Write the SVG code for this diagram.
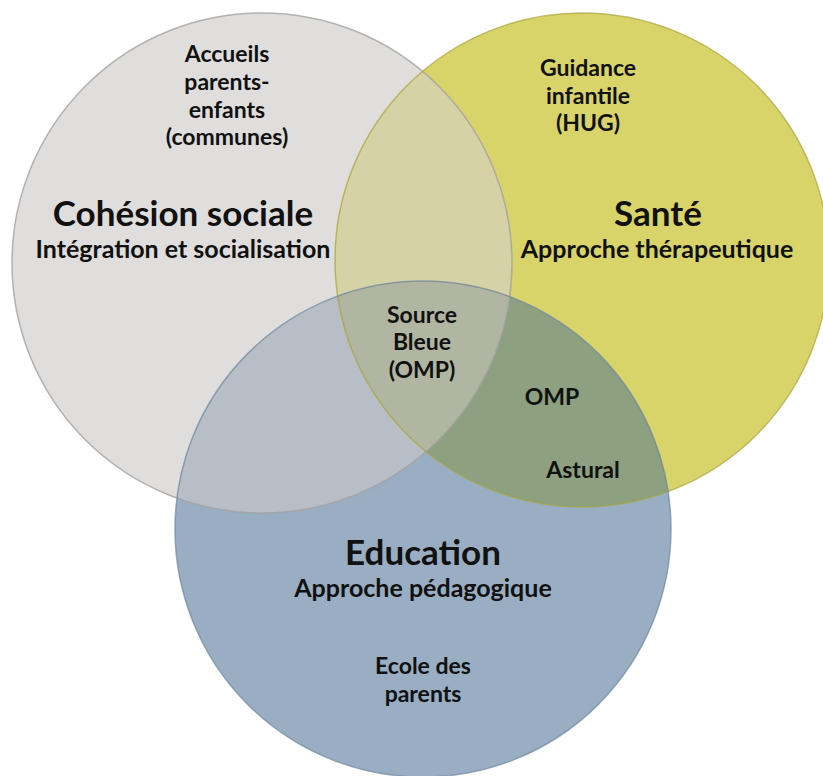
<svg xmlns="http://www.w3.org/2000/svg" width="823" height="776" viewBox="0 0 823 776">
  <style>
    .lbl { font-family: Lato, "Open Sans", "Liberation Sans", sans-serif; fill: #111111; text-anchor: middle; font-weight: 700; }
    .title { font-size: 35px; }
    .sub { font-size: 25px; }
    .item { font-size: 23px; }
    .ring { fill: none; stroke-width: 1.5; }
  </style>
  <defs>
    <circle id="c-social" cx="262" cy="263" r="250"/>
    <circle id="c-sante" cx="582" cy="260" r="247"/>
    <circle id="c-edu" cx="423" cy="529" r="248"/>
    <clipPath id="clip-social"><use href="#c-social"/></clipPath>
    <clipPath id="clip-sante"><use href="#c-sante"/></clipPath>
  </defs>

  <rect width="823" height="776" fill="#ffffff"/>

  <!-- base discs -->
  <g id="social">
    <use href="#c-social" fill="#e0dedc"/>
  </g>
  <g id="sante">
    <use href="#c-sante" fill="#d8d46a"/>
  </g>
  <g id="education">
    <use href="#c-edu" fill="#99aec2"/>
  </g>

  <!-- pairwise and triple overlaps -->
  <g id="overlaps">
    <g clip-path="url(#clip-social)">
      <use href="#c-sante" fill="#d5d2a5"/>
      <use href="#c-edu" fill="#b8bec6"/>
    </g>
    <g clip-path="url(#clip-sante)">
      <use href="#c-edu" fill="#8da07f"/>
    </g>
    <g clip-path="url(#clip-social)">
      <g clip-path="url(#clip-sante)">
        <use href="#c-edu" fill="#b1b6a2"/>
      </g>
    </g>
  </g>

  <!-- outlines -->
  <g id="outlines">
    <use href="#c-social" class="ring" stroke="#a3a3a3" stroke-opacity="0.8"/>
    <use href="#c-sante" class="ring" stroke="#aaa53c" stroke-opacity="0.7"/>
    <use href="#c-edu" class="ring" stroke="#6f879e" stroke-opacity="0.7"/>
  </g>

  <!-- labels -->
  <g id="social-labels">
    <text class="lbl item" x="227" y="62">Accueils</text>
    <text class="lbl item" x="227" y="90">parents-</text>
    <text class="lbl item" x="227" y="118">enfants</text>
    <text class="lbl item" x="227" y="145">(communes)</text>
    <text class="lbl title" x="183" y="226">Cohésion sociale</text>
    <text class="lbl sub" x="183" y="258">Intégration et socialisation</text>
  </g>
  <g id="sante-labels">
    <text class="lbl item" x="588" y="76">Guidance</text>
    <text class="lbl item" x="588" y="104">infantile</text>
    <text class="lbl item" x="588" y="131">(HUG)</text>
    <text class="lbl title" x="658" y="226">Santé</text>
    <text class="lbl sub" x="657" y="258">Approche thérapeutique</text>
  </g>
  <g id="centre-labels">
    <text class="lbl item" x="422" y="323">Source</text>
    <text class="lbl item" x="422" y="350">Bleue</text>
    <text class="lbl item" x="422" y="378">(OMP)</text>
    <text class="lbl item" x="552" y="405">OMP</text>
    <text class="lbl item" x="583" y="478">Astural</text>
  </g>
  <g id="education-labels">
    <text class="lbl title" x="423" y="565">Education</text>
    <text class="lbl sub" x="423" y="597">Approche pédagogique</text>
    <text class="lbl item" x="423" y="674">Ecole des</text>
    <text class="lbl item" x="423" y="702">parents</text>
  </g>
</svg>
